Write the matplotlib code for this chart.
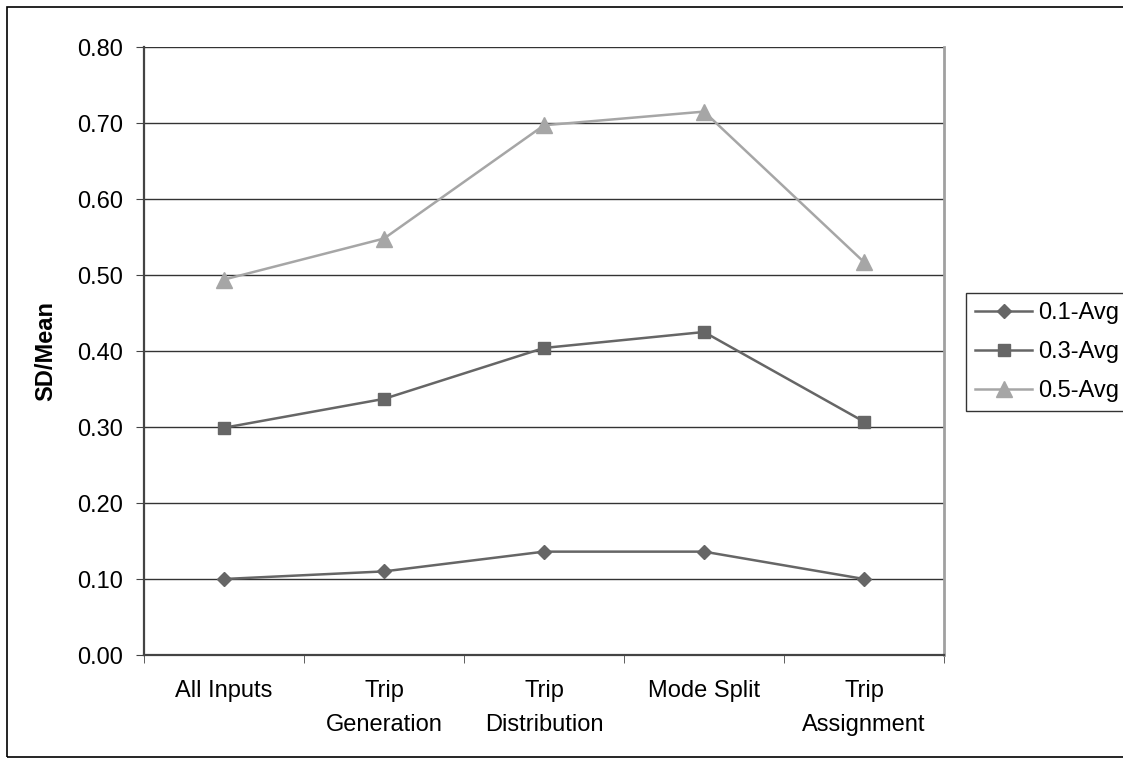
import matplotlib.pyplot as plt
import numpy as np
from matplotlib.patches import Rectangle

# Data
categories = ["All Inputs", "Trip\nGeneration", "Trip\nDistribution", "Mode Split", "Trip\nAssignment"]
avg_01 = [0.100, 0.110, 0.136, 0.136, 0.100]
avg_03 = [0.299, 0.337, 0.404, 0.425, 0.307]
avg_05 = [0.494, 0.548, 0.697, 0.715, 0.517]
y_ticks = [0.0, 0.1, 0.2, 0.3, 0.4, 0.5, 0.6, 0.7, 0.8]

plt.rcParams["font.family"] = ["Liberation Sans", "DejaVu Sans"]
FS = 17

fig = plt.figure(figsize=(11.23, 7.64), dpi=100)
ax = fig.add_axes([144 / 1123, 1 - 655 / 764, 800 / 1123, 608 / 764])

x = np.arange(len(categories))
ax.plot(x, avg_01, color="#666666", lw=1.8, marker="D", ms=7, label="0.1-Avg", zorder=3)
ax.plot(x, avg_03, color="#666666", lw=1.8, marker="s", ms=9, label="0.3-Avg", zorder=3)
ax.plot(x, avg_05, color="#a6a6a6", lw=1.8, marker="^", ms=11, label="0.5-Avg", zorder=3)

ax.set_xlim(-0.5, len(categories) - 0.5)
ax.set_ylim(0, 0.8)
ax.set_yticks(y_ticks)
ax.set_yticklabels([f"{v:.2f}" for v in y_ticks], fontsize=FS)
ax.yaxis.grid(True, color="#333333", lw=1.0)
ax.set_axisbelow(True)

ax.set_xticks(x)
ax.set_xticklabels(categories, fontsize=FS, linespacing=1.7)
ax.set_xticks(np.arange(-0.5, len(categories)), minor=True)
ax.tick_params(axis="x", which="major", length=0, pad=18)
ax.tick_params(axis="x", which="minor", length=6, color="#444444")
ax.tick_params(axis="y", length=6, color="#444444", pad=9)

ax.spines["top"].set_visible(False)
ax.spines["right"].set_color("#a0a0a0")
ax.spines["right"].set_linewidth(2.0)
for s in ["left", "bottom"]:
    ax.spines[s].set_color("#444444")
    ax.spines[s].set_linewidth(1.6)

ax.set_ylabel("SD/Mean", fontsize=FS, fontweight="bold", labelpad=14)

leg = ax.legend(loc="center left", bbox_to_anchor=(966 / 1123, 1 - 352 / 764),
                bbox_transform=fig.transFigure, fontsize=FS, frameon=True,
                fancybox=False, edgecolor="black", handlelength=2.4,
                borderpad=0.4, labelspacing=0.72, handletextpad=0.25, borderaxespad=0)
leg.get_frame().set_linewidth(1.0)

# outer chart border
fig.patches.append(Rectangle((7 / 1123, 1 - 757 / 764), 1130 / 1123, 750 / 764,
                             transform=fig.transFigure, fill=False,
                             edgecolor="black", lw=1.2))

fig.savefig("out.png", dpi=100)
